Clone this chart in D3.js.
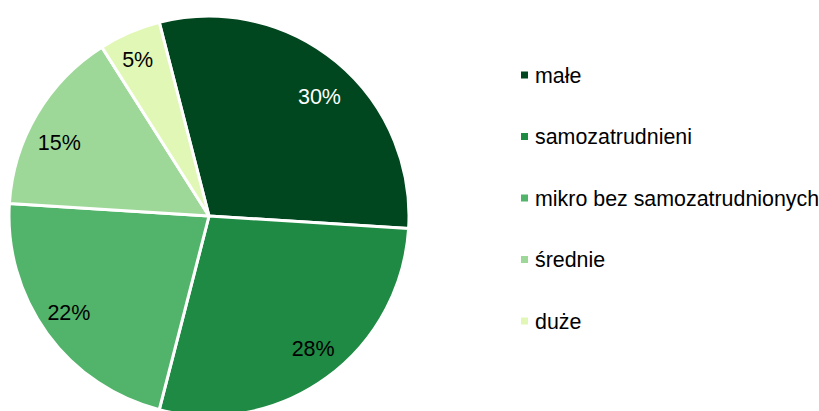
<!DOCTYPE html>
<html>
<head>
<meta charset="utf-8">
<script src="https://cdn.jsdelivr.net/npm/d3@7"></script>
<style>
  body { margin: 0; background: #fff; }
  svg { display: block; font-family: "Liberation Sans", Arial, sans-serif; }
</style>
</head>
<body>
<div id="chart"></div>
<script>
"use strict";

// chart data
const categories = ["małe", "samozatrudnieni", "mikro bez samozatrudnionych", "średnie", "duże"];
const shares = [30, 28, 22, 15, 5];
const colours = ["#00461E", "#1F8A43", "#52B36A", "#9ED899", "#E1F7B5"];
const labelColours = ["#ffffff", "#000000", "#000000", "#000000", "#000000"];

const msm = {
    width: 819,
    height: 411,
    cx: 209,
    cy: 216,
    radius: 200,
    legendX: 521,
    legendTop: 75,
    legendBottom: 321
}

// small hand tweaks so the % labels land where the original put them
const labelNudge = [[4, 9], [6, -3], [-5, -2], [-6, 11], [-5, -3]];

let svgContainer = d3.select("#chart")
    .append("svg")
    .attr("width", msm.width)
    .attr("height", msm.height);

let startAngle = -14.4 * Math.PI / 180;

let pie = d3.pie()
    .sort(null)
    .startAngle(startAngle)
    .endAngle(startAngle + 2 * Math.PI);

let arc = d3.arc()
    .innerRadius(0)
    .outerRadius(msm.radius);

// labels sit at about 84% of the radius
let labelArc = d3.arc()
    .innerRadius(msm.radius * 0.835)
    .outerRadius(msm.radius * 0.835);

let arcs = pie(shares);

let pieGroup = svgContainer.append("g")
    .attr("transform", "translate(" + msm.cx + "," + msm.cy + ")");

pieGroup.selectAll(".slice")
    .data(arcs)
    .enter()
    .append("path")
    .attr("class", "slice")
    .attr("d", arc)
    .attr("fill", (d, i) => colours[i])
    .attr("stroke", "#ffffff")
    .attr("stroke-width", 3)
    .attr("stroke-linejoin", "round");

pieGroup.selectAll(".pct")
    .data(arcs)
    .enter()
    .append("text")
    .attr("class", "pct")
    .attr("transform", (d, i) => {
        let c = labelArc.centroid(d);
        return "translate(" + (c[0] + labelNudge[i][0]) + "," + (c[1] + labelNudge[i][1]) + ")";
    })
    .attr("text-anchor", "middle")
    .attr("dy", "0.36em")
    .style("font-size", "21.5px")
    .attr("fill", (d, i) => labelColours[i])
    .text(d => d.data + "%");

// legend
let yLegend = d3.scalePoint()
    .domain(categories)
    .range([msm.legendTop, msm.legendBottom]);

let legend = svgContainer.selectAll(".legend")
    .data(categories)
    .enter()
    .append("g")
    .attr("class", "legend")
    .attr("transform", d => "translate(" + msm.legendX + "," + yLegend(d) + ")");

legend.append("rect")
    .attr("x", 0)
    .attr("y", -3.5)
    .attr("width", 7)
    .attr("height", 7)
    .attr("fill", (d, i) => colours[i]);

legend.append("text")
    .attr("x", 14)
    .attr("y", 7.5)
    .style("font-size", "21.4px")
    .attr("fill", "#000000")
    .text(d => d);
</script>
</body>
</html>
